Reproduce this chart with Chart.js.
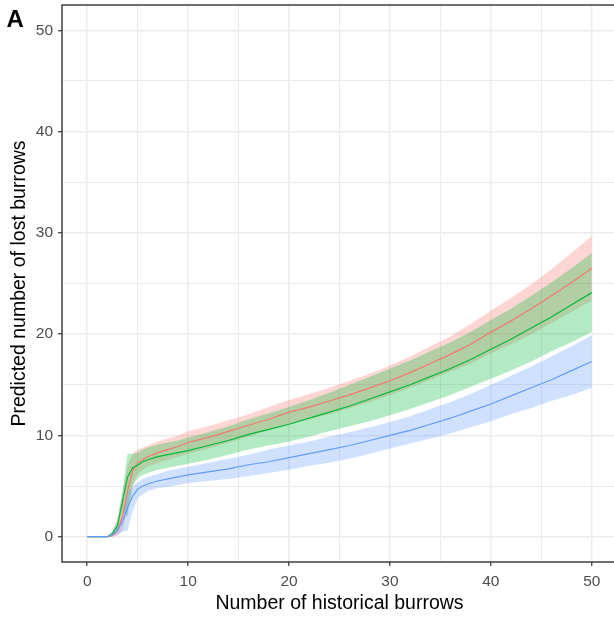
<!DOCTYPE html>
<html>
<head>
<meta charset="utf-8">
<script src="https://cdn.jsdelivr.net/npm/chart.js@4/dist/chart.umd.min.js"></script>
<style>
html,body{margin:0;padding:0;background:#fff;overflow:hidden;width:614px;height:618px;}
canvas{display:block;}
</style>
</head>
<body>
<canvas id="c" width="620" height="618"></canvas>
<script>
// x positions (number of historical burrows)
const xs = [0,1,2,2.5,3,3.5,4,4.5,5,5.5,6,7,8,9,10,12,14,16,18,20,22,24,26,28,30,32,34,36,38,40,42,44,46,48,50];

// red group
const redFit   = [0,0,0,0.1,0.6,2.0,4.5,6.5,7.3,7.6,7.9,8.3,8.6,8.9,9.3,9.8,10.4,11.0,11.6,12.3,12.8,13.4,14.0,14.7,15.4,16.2,17.1,18.0,19.0,20.2,21.3,22.5,23.8,25.1,26.5];
const redUpper = [0,0,0,0.5,1.8,4.5,7.0,8.2,8.6,8.8,9.0,9.4,9.7,10.0,10.4,10.9,11.5,12.1,12.8,13.5,14.1,14.7,15.4,16.1,16.9,17.8,18.8,19.8,21.0,22.3,23.6,24.9,26.4,28.0,29.7];
const redLower = [0,0,0,0,0.1,0.6,2.5,5.2,6.2,6.6,6.9,7.3,7.6,7.9,8.2,8.7,9.3,9.9,10.5,11.1,11.6,12.1,12.7,13.3,14.0,14.7,15.5,16.3,17.1,18.1,19.0,20.0,21.1,22.2,23.3];

// green group
const greenFit   = [0,0,0,0.3,1.1,3.5,5.9,6.8,7.05,7.4,7.6,7.9,8.1,8.3,8.5,9.0,9.5,10.1,10.6,11.1,11.7,12.3,12.9,13.6,14.3,15.0,15.8,16.6,17.5,18.5,19.5,20.6,21.7,22.9,24.1];
const greenUpper = [0,0,0,0.5,1.6,4.5,8.2,8.2,8.3,8.6,8.8,9.1,9.3,9.5,9.8,10.3,10.9,11.6,12.2,12.8,13.5,14.2,15.0,15.8,16.6,17.4,18.3,19.2,20.2,21.4,22.5,23.8,25.1,26.5,28.0];
const greenLower = [0,0,0,0.1,0.6,2.5,2.0,5.0,5.8,6.1,6.3,6.6,6.8,7.0,7.2,7.6,8.1,8.6,9.0,9.4,9.9,10.4,10.9,11.4,12.0,12.6,13.3,14.0,14.8,15.6,16.4,17.3,18.3,19.2,20.2];

// blue group
const blueFit   = [0,0,0,0.2,0.6,1.5,2.9,4.0,4.7,5.0,5.2,5.5,5.7,5.9,6.1,6.4,6.7,7.1,7.4,7.8,8.2,8.6,9.0,9.5,10.0,10.5,11.1,11.7,12.4,13.1,13.9,14.7,15.5,16.4,17.3];
const blueUpper = [0,0,0,0.4,1.0,2.3,4.3,5.0,5.4,5.7,5.9,6.2,6.5,6.7,6.9,7.3,7.7,8.1,8.6,9.0,9.4,9.9,10.3,10.8,11.3,11.9,12.6,13.3,14.1,15.0,15.9,16.8,17.8,18.8,19.9];
const blueLower = [0,0,0,0.05,0.2,0.5,0.6,2.5,3.8,4.2,4.5,4.8,4.9,5.1,5.3,5.5,5.7,6.0,6.3,6.6,7.0,7.3,7.7,8.2,8.7,9.2,9.7,10.2,10.8,11.4,12.1,12.7,13.4,14.0,14.7];

// ticks
const xTicks = [0,5,10,15,20,25,30,35,40,45,50];
const yTicks = [0,5,10,15,20,25,30,35,40,45,50];
const xLabelTicks = [0,10,20,30,40,50];
const yLabelTicks = [0,10,20,30,40,50];

const COL = {red:'#F8766D', green:'#00BA38', blue:'#619CFF'};
const FILL = {red:'rgba(248,118,109,0.3)', green:'rgba(0,186,56,0.3)', blue:'rgba(97,156,255,0.3)'};

const pts = arr => arr.map((v,i)=>({x:xs[i], y:v}));

function bound(arr, order){
  return {data:pts(arr), borderColor:'transparent', borderWidth:0, pointRadius:0, fill:false, order};
}
function band(arr, color, order){
  return {data:pts(arr), borderColor:'transparent', borderWidth:0, pointRadius:0, fill:'-1', backgroundColor:color, order};
}
function line(arr, color, order){
  return {data:pts(arr), borderColor:color, borderWidth:1.2, pointRadius:0, fill:false, order};
}

const panelPlugin = {
  id:'panel',
  afterDraw(chart){
    const {ctx, chartArea:a} = chart;
    ctx.save();
    ctx.strokeStyle = '#333333';
    ctx.lineWidth = 1.4;
    ctx.strokeRect(a.left, a.top, a.right - a.left, a.bottom - a.top);
    ctx.fillStyle = '#000';
    ctx.font = 'bold 24px "Liberation Sans", Arial, sans-serif';
    ctx.textBaseline = 'alphabetic';
    ctx.textAlign = 'left';
    ctx.fillText('A', 6.5, 26.7);
    ctx.restore();
  }
};

const tickFont = {family:'"Liberation Sans", Arial, sans-serif', size:15.5};
const titleFont = {family:'"Liberation Sans", Arial, sans-serif', size:19.5};

function gridOpts(){
  return {
    color:'#ebebeb',
    lineWidth: c => (c.tick && c.tick.value % 10 === 0) ? 1.5 : 1.0,
    tickLength:4,
    tickColor: c => (c.tick && c.tick.value % 10 === 0) ? '#333333' : 'rgba(0,0,0,0)',
    tickWidth:1.2,
    drawTicks:true
  };
}

new Chart(document.getElementById('c'), {
  type:'line',
  data:{
    datasets:[
      bound(redLower, 20),
      band(redUpper, FILL.red, 19),
      bound(greenLower, 18),
      band(greenUpper, FILL.green, 17),
      bound(blueLower, 16),
      band(blueUpper, FILL.blue, 15),
      line(redFit, COL.red, 3),
      line(greenFit, COL.green, 2),
      line(blueFit, COL.blue, 1)
    ]
  },
  options:{
    responsive:false,
    animation:false,
    devicePixelRatio:1,
    layout:{padding:{top:5, right:3, left:0, bottom:0}},
    plugins:{legend:{display:false}, tooltip:{enabled:false}},
    elements:{point:{radius:0}, line:{tension:0}},
    scales:{
      x:{
        type:'linear', min:-2.5, max:52.5,
        afterBuildTicks: s => { s.ticks = xTicks.map(v=>({value:v})); },
        afterFit: s => { s.height = 56; s.paddingLeft = 0; s.paddingRight = 0; },
        ticks:{font:tickFont, color:'#4d4d4d', padding:6, maxRotation:0,
               callback: v => xLabelTicks.includes(v) ? String(v) : ''},
        grid:gridOpts(),
        border:{display:false},
        title:{display:true, text:'Number of historical burrows', font:titleFont, color:'#000', padding:{top:0, bottom:3}}
      },
      y:{
        type:'linear', min:-2.5, max:52.5,
        afterBuildTicks: s => { s.ticks = yTicks.map(v=>({value:v})); },
        afterFit: s => { s.width = 62; s.paddingTop = 0; s.paddingBottom = 0; },
        ticks:{font:tickFont, color:'#4d4d4d', padding:5,
               callback: v => yLabelTicks.includes(v) ? String(v) : ''},
        grid:gridOpts(),
        border:{display:false},
        title:{display:true, text:'Predicted number of lost burrows', font:titleFont, color:'#000', padding:{top:8, bottom:8}}
      }
    }
  },
  plugins:[panelPlugin]
});
</script>
</body>
</html>
